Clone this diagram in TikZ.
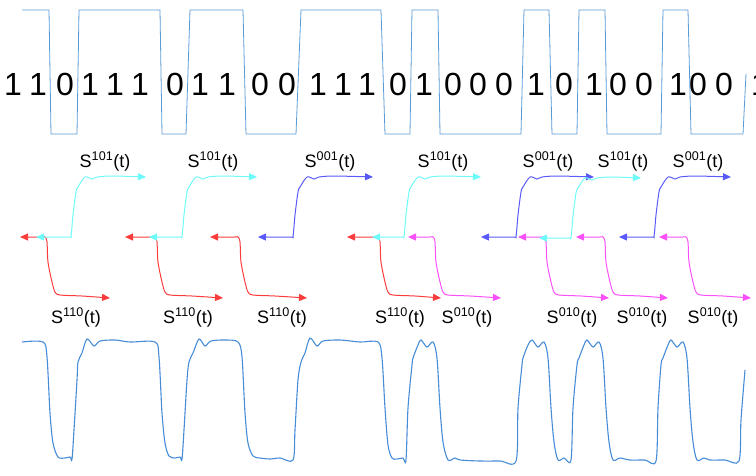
\documentclass[tikz,border=0pt]{standalone}
\usepackage{fontspec}
\setmainfont{Liberation Sans}
\usepackage{xcolor}
\usetikzlibrary{arrows.meta}
\definecolor{wavein}{RGB}{91,155,213}
\definecolor{waveout}{RGB}{70,140,215}
\definecolor{cyanc}{RGB}{110,250,250}
\definecolor{redc}{RGB}{250,60,60}
\definecolor{bluec}{RGB}{90,90,250}
\definecolor{magc}{RGB}{250,80,250}

\begin{document}
\begin{tikzpicture}[x=1pt,y=-1pt,
    sresp/.style={line width=1pt,
      {Triangle[length=8pt,width=7pt]}-{Triangle[length=8pt,width=7pt]}},
    bitnum/.style={font=\fontsize{32}{36}\selectfont,anchor=base,inner sep=0pt},
    slabel/.style={font=\fontsize{18}{20}\selectfont,anchor=base,inner sep=0pt}]
      \useasboundingbox (0,0) rectangle (756,475);

      % input bit stream
      \draw[wavein,line width=0.8pt] plot coordinates
        {(22,10) (49,10) (51,134) (77,134) (79,10) (160,10) (162,134) (186,134)
        (190,10) (243,10) (246,134) (296,134) (301,10) (381,10) (385,134)
        (410,134) (412,10) (438,10) (440,134) (521,134) (524,10) (549,10)
        (552,134) (577,134) (579,10) (605,10) (607,134) (661,134) (663,10)
        (688,10) (691,134) (743,134) (746,74)};
      \foreach \x/\b [count=\i] in {13/1,38/1,65/0,90/1,115/1,140/1,175/0,
        200/1,227/1,260/0,287/0,318/1,343/1,367/1,398/0,424/1,453/0,478/0,
        504/0,536/1,564/0,594/1,618/0,644/0,678/1,698/0,724/0,760/1}
        \node[bitnum] (b\i) at (\x,95) {\b};

      % falling responses
      \draw[sresp,redc] plot [smooth] coordinates
        {(20,237) (42,237) (45,237) (47,242) (48,262) (52,282) (55,292) (60,295) (82,296) (110,298)};
      \draw[sresp,redc] plot [smooth] coordinates
        {(125,237) (152,237) (155,237) (157,242) (158,262) (162,282) (165,292) (170,295) (192,296) (223,298)};
      \draw[sresp,redc] plot [smooth] coordinates
        {(210,237) (235,237) (238,237) (240,242) (241,262) (245,282) (248,292) (253,295) (275,296) (307,298)};
      \draw[sresp,redc] plot [smooth] coordinates
        {(347,237) (375,237) (378,237) (380,242) (381,262) (385,282) (388,292) (393,295) (415,296) (441,298)};
      \draw[sresp,magc] plot [smooth] coordinates
        {(408,237) (430,237) (433,237) (435,242) (436,262) (440,282) (443,292) (448,295) (470,296) (501,298)};
      \draw[sresp,magc] plot [smooth] coordinates
        {(518,237) (541,237) (544,237) (546,242) (547,262) (551,282) (554,292) (559,295) (581,296) (609,298)};
      \draw[sresp,magc] plot [smooth] coordinates
        {(576,237) (600,237) (603,237) (605,242) (606,262) (610,282) (613,292) (618,295) (640,296) (668,298)};
      \draw[sresp,magc] plot [smooth] coordinates
        {(659,237) (683,237) (686,237) (688,242) (689,262) (693,282) (696,292) (701,295) (723,296) (751,298)};

      % rising responses
      \draw[sresp,cyanc] plot [smooth] coordinates
        {(36,237) (68,237) (71,236) (73,215) (76,192) (78,187) (85,177) (92,179) (97,177) (112,176) (146,177)};
      \draw[sresp,cyanc] plot [smooth] coordinates
        {(149,237) (179,237) (182,236) (184,215) (187,192) (189,187) (196,177) (203,179) (208,177) (223,176) (257,177)};
      \draw[sresp,bluec] plot [smooth] coordinates
        {(258,237) (290,237) (293,236) (295,215) (298,192) (300,187) (307,177) (314,179) (319,177) (334,176) (373,177)};
      \draw[sresp,cyanc] plot [smooth] coordinates
        {(372,237) (401,237) (404,236) (406,215) (409,192) (411,187) (418,177) (425,179) (430,177) (445,176) (481,177)};
      \draw[sresp,bluec] plot [smooth] coordinates
        {(481,237) (513,237) (516,236) (518,215) (521,192) (523,187) (530,177) (537,179) (542,177) (557,176) (594,177)};
      \draw[sresp,cyanc] plot [smooth] coordinates
        {(539,238) (568,238) (571,237) (573,216) (576,193) (578,188) (585,178) (592,180) (597,178) (612,177) (641,178)};
      \draw[sresp,bluec] plot [smooth] coordinates
        {(619,237) (651,237) (654,236) (656,215) (659,192) (661,187) (668,177) (675,179) (680,177) (695,176) (731,177)};

      \node[slabel] (s1) at (105,167) {S\textsuperscript{101}(t)};
      \node[slabel] (s2) at (213,167) {S\textsuperscript{101}(t)};
      \node[slabel] (s3) at (330,167) {S\textsuperscript{001}(t)};
      \node[slabel] (s4) at (443,167) {S\textsuperscript{101}(t)};
      \node[slabel] (s5) at (548,167) {S\textsuperscript{001}(t)};
      \node[slabel] (s6) at (623,167) {S\textsuperscript{101}(t)};
      \node[slabel] (s7) at (698,167) {S\textsuperscript{001}(t)};
      \node[slabel] (s8) at (76,323) {S\textsuperscript{110}(t)};
      \node[slabel] (s9) at (188,323) {S\textsuperscript{110}(t)};
      \node[slabel] (s10) at (282,323) {S\textsuperscript{110}(t)};
      \node[slabel] (s11) at (400,323) {S\textsuperscript{110}(t)};
      \node[slabel] (s12) at (467,323) {S\textsuperscript{010}(t)};
      \node[slabel] (s13) at (572,323) {S\textsuperscript{010}(t)};
      \node[slabel] (s14) at (642,323) {S\textsuperscript{010}(t)};
      \node[slabel] (s15) at (713,323) {S\textsuperscript{010}(t)};

      % received signal
      \draw[waveout,line width=1.1pt] plot [smooth] coordinates
        {(22,342) (43,342) (47,357) (50,413) (53,443) (58,457) (65,458) (70,457)
        (72,459) (74,430) (77,380) (78,362) (82,353) (87,339) (94,346) (100,341)
        (115,340) (130,342) (155,342) (159,357) (162,413) (165,443) (169,456)
        (175,458) (180,457) (182,459) (184,430) (187,380) (189,362) (193,353)
        (199,339) (205,346) (211,341) (225,340) (238,342) (242,357) (245,413)
        (248,443) (253,456) (260,458) (270,459) (280,458) (293,460) (295,430)
        (298,380) (301,362) (305,353) (310,338) (317,346) (323,341) (340,340)
        (360,342) (378,342) (382,358) (385,408) (388,445) (392,458) (397,459)
        (403,458) (406,460) (408,408) (412,365) (413,358) (418,345) (421,340)
        (427,347) (433,342) (437,358) (440,408) (443,442) (448,460) (455,458)
        (460,460) (480,461) (500,461) (516,461) (518,408) (522,365) (523,358)
        (528,345) (532,340) (538,347) (544,342) (548,358) (551,408) (554,442)
        (558,460) (564,458) (571,460) (573,408) (577,365) (579,358) (584,345)
        (587,340) (593,347) (599,342) (603,358) (606,408) (609,442) (613,460)
        (620,458) (630,460) (645,460) (656,461) (658,408) (661,365) (663,358)
        (668,345) (671,340) (677,347) (683,342) (687,358) (690,408) (693,442)
        (697,460) (704,458) (710,460) (725,460) (739,461) (741,420) (745,370)};
    \end{tikzpicture}
\end{document}
